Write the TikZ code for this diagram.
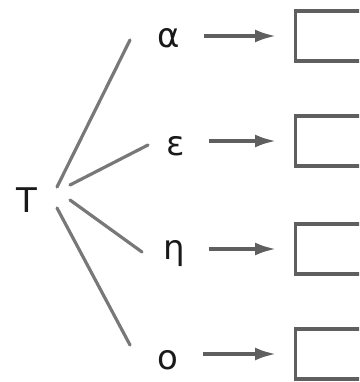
\documentclass[tikz,border=0pt]{standalone}
\usepackage{fontspec}
\setmainfont{DejaVu Sans}
\usetikzlibrary{arrows.meta,positioning}
\definecolor{linegray}{RGB}{120,120,120}
\definecolor{boxgray}{RGB}{95,95,95}
\definecolor{inkgray}{RGB}{25,25,25}

\begin{document}
\begin{tikzpicture}[
    x=1pt, y=-1pt,
    letter/.style={inner sep=0pt, text=inkgray, font=\fontsize{34}{34}\selectfont},
    slot/.style={rectangle, draw=boxgray, line width=3.4pt,
                 minimum width=100pt, minimum height=50pt, anchor=west},
    branch/.style={draw=linegray, line width=3.2pt, line cap=round},
    arrow/.style={-{Latex[length=21pt,width=13pt]}, line width=3.4pt, color=boxgray,
                  shorten <=24pt, shorten >=18pt}
  ]
    \useasboundingbox (0,0) rectangle (359,382);
    \clip (0,0) rectangle (359,382);

    % letters
    \node[letter] (T) at (27,200.5) {T};
    \node[letter] (a) at (169,38.5) {α};
    \node[letter] (e) at (175.5,146.5) {ε};
    \node[letter] (h) at (174,253.5) {η};
    \node[letter] (o) at (168,360.5) {ο};

    % empty answer boxes
    \node[slot] (boxa) at (294,36) {};
    \node[slot] (boxe) at (294,141) {};
    \node[slot] (boxh) at (294,249) {};
    \node[slot] (boxo) at (294,354) {};

    % branch ends
    \coordinate (Ta) at (57,187);
    \coordinate (Te) at (70,185);
    \coordinate (Th) at (70,200);
    \coordinate (To) at (57,208);
    \coordinate (a-in) at (130,40);
    \coordinate (e-in) at (148,145);
    \coordinate (h-in) at (142,252);
    \coordinate (o-in) at (130,345);

    \draw[branch] (Ta) -- (a-in);
    \draw[branch] (Te) -- (e-in);
    \draw[branch] (Th) -- (h-in);
    \draw[branch] (To) -- (o-in);

    \draw[arrow] (a.east |- boxa.west) -- (boxa.west);
    \draw[arrow] (e.east |- boxe.west) -- (boxe.west);
    \draw[arrow] (h.east |- boxh.west) -- (boxh.west);
    \draw[arrow] (o.east |- boxo.west) -- (boxo.west);
  \end{tikzpicture}
\end{document}
